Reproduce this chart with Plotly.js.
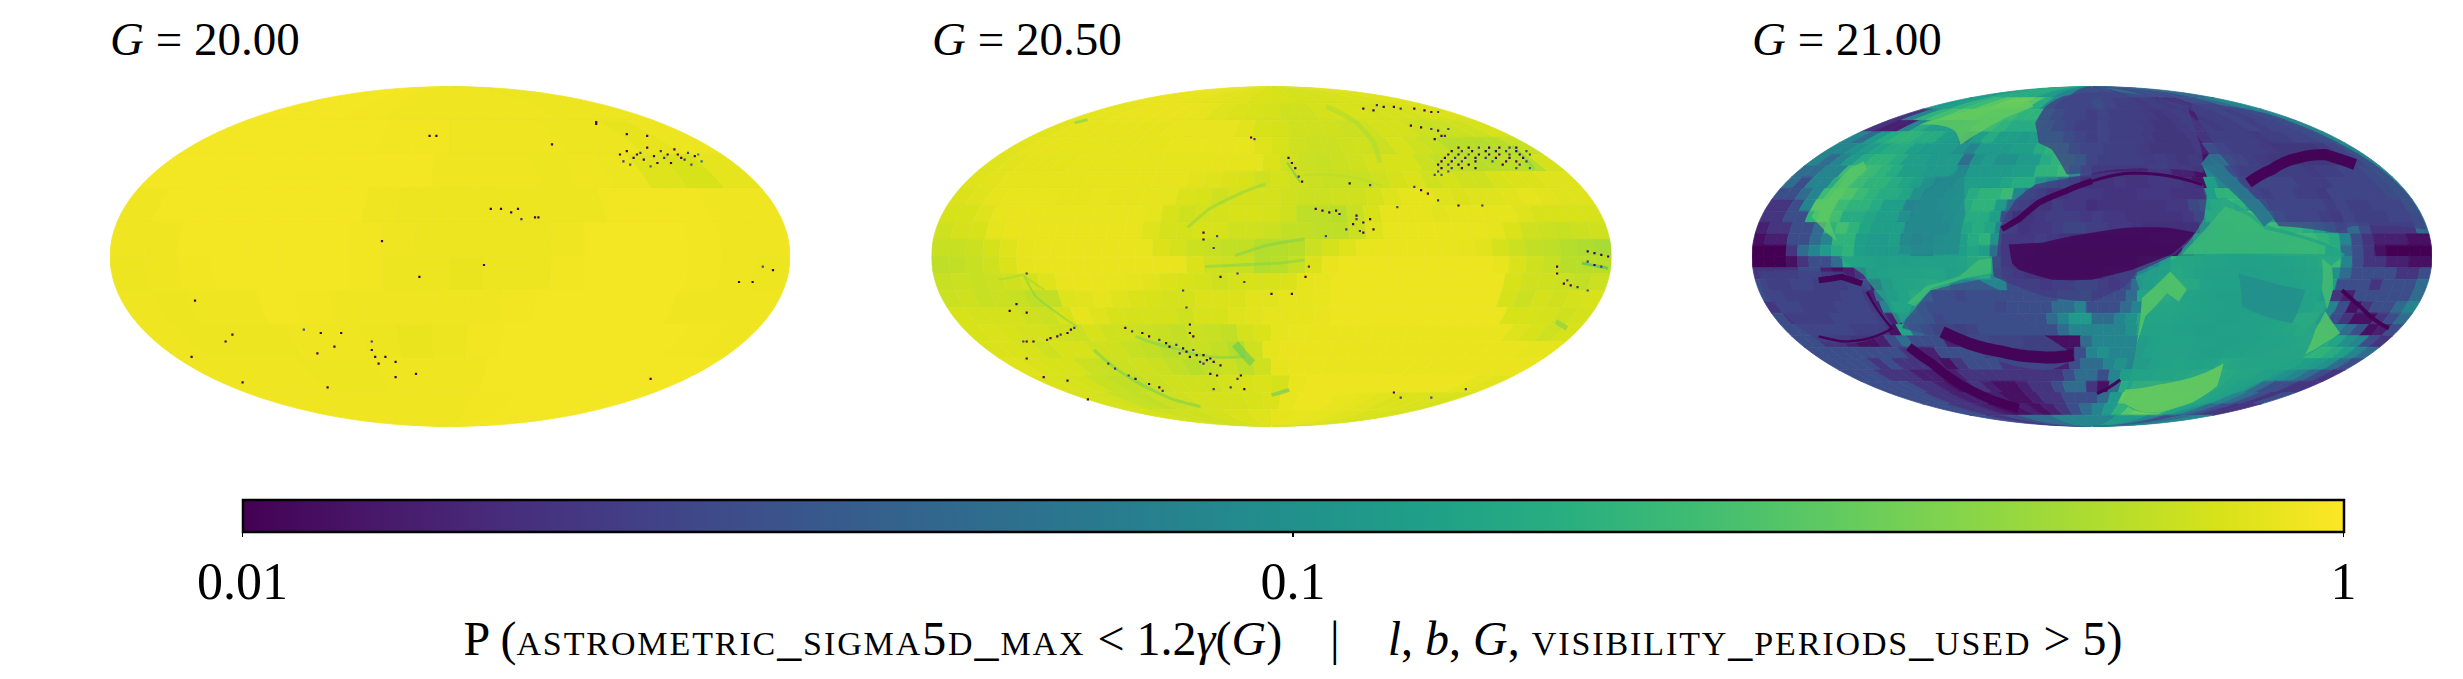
<!DOCTYPE html>
<html><head><meta charset="utf-8">
<script>
// The maps carry no base layers, so an empty world topology stands in for the one Plotly would fetch.
const emptyLayers = {};
['coastlines','land','ocean','lakes','rivers','countries','subunits'].forEach(k => { emptyLayers[k] = {type: 'GeometryCollection', geometries: []}; });
window.PlotlyGeoAssets = {topojson: {world_110m: {type: 'Topology', objects: emptyLayers, arcs: []}}};
</script>
<script src="https://cdn.plot.ly/plotly-3.0.1.min.js"></script>
<style>html,body{margin:0;padding:0;background:#fff}</style></head>
<body><div id="chart" style="width:2463px;height:679px"></div>
<script>
// Probabilities in percent, read by eye from the maps. Each inner array is one equal-height
// band of the all-sky map, top to bottom, spanning that band's chord from left to right.
const g2000Rows = [
[93,93,92,91,90,90,90,88,88],
[93,93,93,93,93,92,92,90,90,90,88,88,85,88],
[93,93,93,93,93,93,93,93,90,90,90,89,90,88,80,76,84],
[91,93,93,93,93,93,93,90,88,88,88,89,89,89,92,92,92,91,91],
[90,91,93,93,93,93,93,92,90,88,88,88,88,90,93,93,93,92,90,90],
[88,90,92,93,93,93,93,92,89,88,87,88,89,92,93,93,93,92,90,88],
[90,89,90,90,93,92,91,90,90,91,91,92,93,93,93,93,91,90,90],
[90,89,88,89,91,90,89,87,88,92,93,93,93,93,93,92,91],
[90,90,90,89,89,90,90,90,93,93,93,93,93,93],
[91,91,90,90,91,92,93,93,93]
];
const g2050Rows = [
[87,86,85,82,80,78,76,74,74,76,78,80],
[84,85,87,87,87,87,84,80,78,76,74,72,72,74,76,76,74,74,74,76,78],
[82,84,85,85,85,85,85,86,86,86,86,82,76,74,72,72,72,70,72,74,74,72,68,70,72,76],
[82,84,85,84,84,84,84,84,85,86,86,86,86,86,80,76,72,70,70,72,72,70,76,72,68,62,62,60,62,68],
[80,82,83,83,83,84,84,84,84,84,85,84,84,85,84,84,78,72,70,68,70,72,74,76,76,70,66,64,62,62,64,62,74],
[80,82,84,84,84,84,84,85,85,85,85,85,85,82,80,78,76,72,74,72,70,68,68,68,72,74,78,72,74,72,72,76,78,78,80,80],
[78,80,85,86,86,86,85,85,86,85,85,85,84,78,76,72,74,74,74,72,70,70,72,72,74,80,84,84,80,78,80,80,82,84,82,80,80],
[76,76,80,86,87,87,86,86,86,86,86,86,84,76,72,74,74,76,76,74,72,64,64,62,68,76,85,85,85,82,84,85,85,84,80,76,76,76,76],
[72,74,76,84,87,87,87,87,87,87,87,87,80,74,74,76,76,72,72,70,66,66,64,64,70,80,86,86,87,86,86,86,84,78,72,70,68,70,72],
[68,68,70,74,80,85,87,87,87,87,87,87,86,78,74,70,68,66,66,60,60,62,70,74,80,86,87,87,87,87,86,85,82,74,70,66,64,60,58,55],
[64,66,68,72,78,85,87,87,87,87,87,87,87,87,87,78,72,70,68,60,62,68,78,87,88,88,88,88,88,88,88,88,88,86,78,72,68,62,62,62],
[68,70,68,70,72,74,80,87,87,87,86,84,82,78,76,74,72,74,76,76,78,84,86,88,88,88,88,88,88,88,88,88,88,76,72,72,70,66,70],
[70,72,68,70,68,64,66,80,82,84,80,78,76,74,74,78,78,78,82,82,84,84,86,88,88,88,88,88,88,88,88,88,88,74,70,74,72,74,76],
[76,74,74,74,72,70,76,85,80,76,74,74,74,72,76,76,80,82,84,84,85,87,88,88,88,88,88,88,88,88,88,88,76,76,74,72,74],
[76,78,76,74,74,72,70,76,72,72,70,68,66,70,68,66,74,78,84,86,87,87,87,87,87,87,87,87,87,87,87,87,80,76,72,76],
[78,78,76,72,76,76,72,72,68,66,62,66,68,66,60,72,84,87,87,87,87,87,87,87,87,87,87,87,87,87,87,84,84],
[80,78,76,76,70,68,70,72,70,66,62,66,70,64,72,85,87,87,87,87,87,87,87,87,87,87,87,87,87,87],
[78,76,74,68,66,66,70,72,72,72,74,76,78,74,86,88,88,88,88,88,88,88,88,88,84,82],
[76,74,68,66,70,72,74,74,74,76,78,86,88,88,86,84,82,78,78,78,76],
[76,72,72,74,78,80,84,86,84,82,78,76]
];
const g2100Rows = [
[12,17,17,17,12,8,3,3,3,3,5,3,3,3,5],
[12,13,20,23,30,35,35,30,17,8,3,3,3,5,3,2,2,1.5,2,1.5,2,2,3,3,5,8],
[2,8,20,25,30,30,30,25,23,23,20,20,12,5,3,3,2,3,2,2,2,1.5,1.2,1.5,2,1.5,2,2,3,2,3,5,8],
[2,1.5,1.5,8,17,13,13,13,17,23,23,20,17,17,17,12,5,3,2,2,3,2,2,2,1.5,1.2,1.2,1.5,2,2,1.5,2,2,3,2,3,3,5,8],
[8,5,12,17,20,20,17,17,13,12,8,13,17,13,13,12,13,13,12,5,3,2,3,2,2,2,1.5,1.2,1.2,1.2,1.5,2,2,2,2,2,1.5,2,2,3,3,5,8],
[8,8,10,12,15,17,17,13,12,12,12,10,8,12,12,12,13,13,17,20,17,5,3,3,2,2,2,1.5,1.2,1.2,1.2,1.2,1.5,3,3,2,2,2,1.5,1.2,1.2,1.2,1.2,1.5,3,8],
[8,5,8,12,17,20,20,17,13,13,12,12,12,5,10,12,10,10,12,12,17,20,20,12,3,2,2,2,2,1.5,2,1.5,1.2,1.5,1.2,5,5,3,2,1.5,1.2,1.2,1.2,1.2,1.2,1.2,1.5,3,8],
[5,5,8,8,23,23,23,20,17,13,13,12,12,12,8,12,12,12,12,13,13,20,20,23,10,3,1.5,1.5,1.5,1.5,1.5,2,2,1.5,1.5,1.2,8,5,3,2,2,2,2,2,2,1.5,2,2,3,3,5,8],
[5,3,8,8,17,25,23,20,20,17,15,13,10,8,8,12,13,13,13,15,17,17,10,8,5,3,1.2,1.5,1.5,2,1.5,1.5,2,2,2,1.5,1.2,13,8,5,3,3,3,3,3,2,2,2,3,3,3,3,5,8],
[3,3,5,8,23,30,28,23,20,17,17,15,10,8,8,10,13,17,20,20,23,8,5,3,1.5,1.5,2,2,2,1.5,1.5,1.5,2,2,2,1.5,1.5,1.5,13,20,20,5,3,2,3,3,2,2,1.5,3,3,3,3,3,5,8],
[2,2,3,8,30,30,23,20,20,17,13,13,8,8,8,10,13,17,20,20,12,5,3,2,1.5,3,2,2,1.2,1.5,1.5,1.5,1.5,1.5,1.5,2,2,8,15,23,25,20,13,8,3,3,3,3,3,2,3,2,2,3,3,3,8],
[2,2,3,3,20,30,25,17,17,15,13,13,10,8,8,8,10,15,17,17,13,3,1.2,1.5,2,3,3,3,2,3,2,2,1.5,1.5,1.5,1.5,1.5,2,5,23,28,30,30,25,13,5,3,3,3,2,1.5,3,2,2,2,3,3,5],
[1.5,2,2,3,3,5,20,25,20,15,13,13,13,8,8,8,8,13,15,17,15,8,3,1.5,2,2,3,5,5,3,3,2,2,1.5,1.2,1.2,1.2,1.2,1.2,3,17,20,23,25,25,23,20,20,17,13,8,3,5,3,2,2,2,2,5],
[1.2,1.5,1.5,3,3,5,8,20,20,13,12,12,13,8,5,8,10,13,13,17,20,10,2,2,2,3,2,1.5,1.2,1.2,1.2,1.2,1.2,1.2,1.2,1.5,1.5,1.5,2,8,13,17,20,17,13,15,17,20,23,23,20,17,8,3,2,1.5,1.5,1.5,1.2,1.2],
[1,1,1,2,5,8,12,17,20,13,12,12,12,12,8,8,12,13,13,15,13,5,2,1.5,1.5,1.2,1,1,1,1,1,1,1,1,1,1,1.2,1.2,3,13,17,15,13,13,15,17,20,23,23,23,20,17,5,3,2,1.2,1,1,1,1],
[1,1,1,1.2,2,3,3,5,17,15,13,12,13,12,13,13,13,13,15,23,25,10,2,1.5,1.2,1.2,1,1,1,1,1,1,1,1.2,5,8,12,20,20,17,15,15,13,13,13,13,13,15,17,20,23,23,8,3,2,2,1.5,1.5,1.2,1.2],
[2,2,2,2,3,3,1.5,1.2,1.5,2,10,13,15,15,15,17,17,12,13,15,17,8,3,2,1.5,1.2,1.2,1.2,1.2,1.2,1,2,3,3,8,10,12,23,20,15,13,13,13,12,12,13,13,13,15,17,20,10,5,3,3,3,3,2,2,3],
[3,2,2,3,3,2,2,2,3,3,1.5,8,15,17,20,25,17,8,8,8,8,8,3,3,3,2,3,3,5,5,3,2,3,5,10,13,20,25,23,15,13,13,13,13,12,12,13,13,15,17,13,3,3,3,2,3,3,3,5],
[3,3,2,2,2,2,2,3,3,1.5,5,10,15,25,10,3,3,2,3,3,3,3,3,3,3,3,5,5,8,3,3,3,5,15,23,25,20,15,13,13,12,12,12,12,12,13,13,15,15,8,2,1.5,3,3,3,3,3,5],
[2,3,3,2,2,2,3,3,3,1.5,8,17,15,5,3,3,3,3,3,3,2,3,3,3,3,5,5,8,3,3,3,5,8,17,20,20,17,15,13,13,12,12,12,12,13,13,13,15,20,8,3,1.2,2,3,3,5,8],
[3,2,2,2,2,3,3,3,3,2,1.5,8,8,5,2,3,3,3,3,3,3,3,3,3,5,8,12,12,5,5,8,10,15,17,17,15,13,13,13,12,12,13,13,13,15,17,25,25,8,3,2,1.2,1.2,2,3,5],
[3,3,3,3,3,3,2,2,2,1.2,15,5,3,1.5,1.5,1.2,1.5,3,3,3,3,3,3,3,5,8,8,8,8,8,10,15,15,15,13,13,12,12,13,13,13,13,15,17,20,23,20,13,8,5,3,1.2,1.5,3],
[3,3,2,2,1.5,1.2,1.2,1.5,3,5,3,3,3,1.5,1.5,2,2,1.5,1.5,1.5,1.2,1.2,1.2,1.2,1.2,5,8,8,8,8,10,13,15,15,15,13,13,12,12,13,13,15,15,17,20,20,17,15,10,8,3,2],
[3,3,3,3,3,3,3,3,2,1.5,1.5,3,3,3,3,2,1.5,1.5,1.2,1.2,1.2,1.2,1.2,3,8,10,8,8,8,13,15,15,15,13,12,12,13,13,15,15,17,17,17,20,20,17,13,8,5],
[3,3,3,3,2,3,2,2,2,1.5,1.2,2,3,3,3,2,2,2,2,1.5,1.5,3,5,5,8,10,8,8,13,15,17,15,13,15,23,20,17,17,17,17,15,13,12,10,5,3],
[3,3,3,2,2,2,1.5,1.5,1.2,1.5,2,2,2,2,2,2,2,2,2,3,5,5,3,8,13,15,15,17,17,20,23,28,30,23,20,17,13,12,10,8,5,3,2],
[3,3,3,3,2,2,1.5,1.2,1.5,2,1.5,1.2,1.2,1.5,2,2,3,5,5,2,1.2,5,17,33,35,35,35,30,30,30,25,17,13,10,5,3,3,2,2],
[3,3,3,2,2,1.5,1.5,2,1.5,1.2,1.2,1.5,2,2,3,3,3,5,12,30,35,38,38,38,35,30,20,13,8,5,3,2,3],
[3,3,2,2,1.5,1.2,1.2,1.5,1.2,1.5,2,3,5,8,12,20,30,35,35,30,15,10,5,3,2,2],
[3,2,3,5,5,8,8,8,8,12,12,8,3,5,8]
];
// Sharp-edged areas of the G = 21 map: P in percent and outline in map
// fractions (across, up), as percent of the half-axes.
const g2100AreaP = [2.5,3,14,24,14,23,36,30,30,25,9.5,33,30,9,2.2,1,2.5,2.5];
const g2100AreaU = [
[-98,-87.3,-80.4,-73.5,-66.7,-58.8,-61.3,-70.6,-80.4,-90.2,-96.6],
[-55.9,-52.9,-47.1,-41.2,-33.3,-27.5,-24.5,-11.8,-3.9,-11.8,-31.4,-45.1],
[-74.5,-67.2,-60.3,-56.9,-53.9,-47.5,-37.3,-29.2,-29.2],
[-54.4,-49,-39.2,-33.3,-29.6,-29.6,-37.3,-47.1,-52],
[33.8,39.2,52,68.6,74.5,70.1,70.8,68.6,73,62.7,51,37.3,25.5,16.7,8.8,10.3,13.2,14.7,12.7,24.5,29.4,32.8],
[39.2,46.1,51,62.7,68.6,68.6,26.5,32.4],
[9.8,19.6,33.3,38.7,36.8,29.4,19.6,11.8,8.3],
[14.7,23,27.9,25.5,22.1,15.7,13.2],
[68.6,73,62.7,65.7],
[67.6,70.6,70.8,69.1,67.6],
[43.1,62.7,58.8,44.1],
[-51,-37.3,-25.5,-18.6,-17.2,-25.5,-33.3,-38.7,-40.2,-44.1],
[-82.5,-76.5,-71.1,-67.2,-66.2,-71.6,-76.5,-77.3,-75,-77.5],
[-37.3,-49,-53.9,-56.9,-39.2,-37.3],
[-27.9,-27,-22.5,-16.7,-8.8,0,9.8,19.6,32.4,33.8,32.8,29.4,24.5,12.7,9.8,0,-13.7,-24.5,-28.9,-29.4],
[-24.5,-14.7,-5.9,0,9.8,22.5,30.4,27.5,23.5,11.8,3.9,0,-11.8,-21.6,-23.5],
[-15.7,-16.7,-13.7,-8.8,0,13.7,28.4,32.4,32.8,19.6,9.8,0,-7.4,-11.8],
[29.4,51,70.6,83.3,94.1,98.5,76.5,71.6,54.9,44.1,37.3,32.4]
];
const g2100AreaV = [
[-8.8,-7.8,-8.8,-8.8,-17.6,-40.1,-45.9,-51.2,-49.9,-34.2,-21.5],
[-42,-29.3,-19.6,-16.6,-13.7,-19.6,-31.3,-48.9,-58.7,-66.5,-58.7,-46.9],
[0,-10.8,-27.4,-40.1,-35.2,-19.6,-13.3,-10.8,0],
[-27.4,-17.6,-11.7,-2,-1,-9.8,-12.7,-18.6,-29.3],
[33.5,34.5,17.9,8.1,1.3,-5.9,-19.6,-32.3,-45,-58.7,-72.3,-84.1,-90.9,-91.9,-85,-77.2,-50.8,-24.4,-11.7,-1,11,21.8],
[29.6,23.8,15.9,10.1,6.2,1.3,1.3,14],
[-78.2,-75.3,-68.4,-63,-76.2,-86,-91.9,-89,-84.5],
[-24.4,-8.8,-19.6,-26.4,-21.5,-35.2,-50.8],
[-32.3,-45,-57.7,-43],
[-1,-5.9,-19.6,-31.3,-19.6],
[-9.8,-19.6,-39.1,-29.3],
[77.5,85.3,90.2,91.2,87.9,81.4,72.6,65.8,73.6,76.9],
[23.4,40.4,52.1,56,51.1,41.3,27.7,21.8,9.1,13],
[53.1,37.4,21.8,1.3,1.3,25.7],
[0.3,17.9,33.5,42.3,45.3,48.2,50.1,49.6,43.3,35.5,21.8,11,1.3,-9.8,-17.6,-26.4,-23.5,-15.6,-11.7,0],
[7.1,8.1,12,14,16.9,16.9,14,8.1,1.3,-7.8,-11.7,-13.7,-13.7,-7.8,-4],
[66.8,78.5,88.3,94.1,96.1,95.1,88.3,60.9,49.2,51.1,51.5,48.8,48.2,62.9],
[90.2,84.4,68.7,54,33.5,15.9,17.9,14,17.9,43.3,60.9,76.5]
];
// Narrow dark or pale arcs in the maps: P in percent, stroke width, and path in the same fractions.
const g2100ArcP = [1,1,1,1,1,1,1,1,1,6];
const g2100ArcW = [6,3,6,2.5,12,9,4,3,11,12];
const g2100ArcU = [
[-26.5,-21.6,-15.7,-7.8,0],[0,9.8,19.6,32.4],[-80.4,-73.5,-67.6],[-66.2,-58.8,-65.7,-73.5,-80.4],
[-44.1,-36.3,-26.5,-16.7,-5.4],[-53.9,-47,-39.2,-29.4,-21.6],[73.5,78.4,83.3,87.3],[1.5,8.3],
[46,52.9,60.8,68.6,77.4],[33.1,42,52]
];
const g2100ArcV = [
[16,21.8,31.6,38.4,44.3],[44.3,48.8,48.2,42.3],[-14,-12,-16],[-20.8,-42.3,-48.2,-50,-47],
[-44.3,-51.1,-56,-59,-58],[-53.1,-63,-74.6,-84.3,-89.2],[-19.8,-28.6,-37.4,-42.3],[-80.7,-72.5],
[43.3,51.1,58,60,54.1],[57,41.3,19.8]
];
const g2050ArcP = [45,60,55,40,42,40,32,38,40,50,38,22,42,30,35,30];
const g2050ArcW = [3,2,5,3,3,3,8,3,2,2,5,3,3,2,3,4];
const g2050ArcU = [
[-24.7,-18.4,-10.7,-1.8],[8.4,21.2,32.7],[16.1,25,30.1,32],[-10.7,-1.8,9.7],[-19.6,-8.2,2,9.7],[-40,-28.6,-18.4,-8.2],
[-10.7,-5.6],[-52.2,-45.2,-36.2,-28.6,-20.9],[-72.6,-69.4,-63,-57.3],[-80.2,-73.2,-66.8],[83.7,86.9],[91.3,99],
[70.9,77.3],[4.6,8.4],[-57.9,-54.1],[0,5.2]
];
const g2050ArcV = [
[17.1,27.9,35.7,42.5],[47.4,47.4,41.5],[88.3,78.6,66.9,55.2],[0.6,6.4,10.3],[-5.9,-4.9,-3.9,-2],[-47,-53.9,-58.8,-58.8],
[-51.4,-62.7],[-54.9,-66.7,-77.5,-84.3,-88.2],[-11.8,-23.5,-33.3,-41.2],[-13.7,-10.8,-19.6],[-38.2,-42.2],[-3.9,-6.9],
[64.9,51.3],[55.2,43.5],[78.6,80.5],[-81.4,-78.4]
];
// Isolated low-probability pixels: position across and up the map (percent of half-axes) and P in percent.
const g2000SpeckU = [50,52,54,56,58,60,62,64,66,68,70,72,74,51,53,57,61,63,65,67,69,71,55,59,73,-6,-4,30,12,15,18,20,26,25,21,-20,-9,10,-75,-66,-64,-43,-38,-32,-39,-34,-23,-23,-22,-19,-21,-16,-10,-16,-36,59,89,85,95,92,43,43,52,58,-76,-61];
const g2000SpeckV = [60,62,58,61,64,59,62,60,63,58,61,59,56,56,54,57,55,58,55,60,57,54,60,53,60,71,71,66,28,28,26,28,23,23,22,9,-12,-5,-26,-50,-46,-43,-45,-45,-57,-53,-50,-55,-59,-59,-63,-62,-69,-71,-77,-72,-15,-15,-8,-6,79,78,72,71,-59,-74];
const g2000SpeckP = [1,1,1,2,1,1,2,1,1,1,3,1,5,2,3,1,1,2,1,1,2,3,1,5,8,1,1,1,1,1,1,1,1,1,2,1,1,1,1,1,1,3,1,1,1,1,2,1,1,1,1,1,1,1,1,1,1,1,1,3,1,1,1,1,1,1];
const g2050SpeckU = [55,58,61,64,67,70,72,53,56,59,63,66,69,72,75,52,55,58,61,64,67,70,73,76,51,54,57,60,63,66,70,74,50,53,56,60,65,69,72,75,49,52,55,58,68,73,50,53,56,60,72,76,49,52,48,50,27,31,33,36,38,42,45,47,49,30,41,44,47,49,50,51,48,52,13,15,17,19,20,25,25,27,29,24,26,27,30,22,16,5,6,7,8,9,-6,-5,23,29,37,42,44,46,49,55,62,-20,-20,-16,-17,93,95,97,99,93,95,97,84,84,86,88,90,87,93,-43,-41,-38,-36,-33,-31,-30,-28,-26,-25,-23,-22,-20,-19,-20,-18,-17,-15,-21,-24,-27,-66,-65,-63,-62,-60,-59,-58,-70,-72,-26,-25,-24,-24,-23,-48,-46,-42,-40,-36,-33,-32,-18,-16,-10,-9,-8,-12,-17,-67,-68,-60,-72,-73,47,38,36,-54,-10,-15,-8,0,6,10,11,-72,-75,-72,-77];
const g2050SpeckV = [64,64,64,64,64,64,64,62,62,62,62,62,62,62,62,60,60,60,60,60,60,60,60,60,58,58,58,58,58,58,58,58,56,56,56,56,56,56,56,56,54,54,54,54,54,54,52,52,52,52,52,52,50,50,48,48,87,89,88,88,87,87,86,85,85,86,77,76,75,74,71,71,69,75,28,27,26,27,25,24,22,20,22,19,15,14,16,16,12,58,55,52,47,44,70,69,43,42,29,41,39,37,33,30,30,14,10,12,5,3,2,1,0,-3,-5,-6,-6,-10,-16,-17,-18,-14,-20,-42,-44,-45,-47,-49,-51,-53,-52,-54,-56,-55,-58,-58,-61,-63,-60,-62,-64,-62,-59,-57,-49,-48,-47,-46,-45,-43,-42,-50,-50,-20,-30,-40,-45,-47,-63,-66,-70,-72,-75,-77,-79,-69,-70,-72,-70,-78,-77,-78,-71,-78,-73,-60,-50,-83,-83,-80,-84,-10,-12,-15,-22,-22,-12,-6,-10,-28,-33,-32];
const g2050SpeckP = [1,1,2,1,1,2,1,1,2,1,1,1,2,1,3,1,1,2,1,1,1,2,1,3,1,2,1,1,2,1,1,1,1,1,2,1,3,1,1,2,1,2,1,1,1,2,1,2,1,1,3,5,2,3,3,5,1,2,1,1,2,1,1,1,2,1,1,1,2,1,1,2,1,3,1,1,1,1,1,1,2,1,1,1,2,1,1,2,3,1,1,1,2,1,1,2,1,2,3,2,1,1,2,1,2,1,1,3,2,1,1,1,1,2,1,2,1,1,1,1,2,3,3,1,2,1,1,2,1,1,2,1,1,2,1,1,1,2,1,1,1,2,1,2,2,1,1,2,1,1,2,1,1,2,2,1,1,1,2,2,3,1,1,1,2,1,1,2,1,1,2,2,1,2,1,1,2,3,2,1,1,2,1,2,1,1,1,2,2,1,1,1,2,1];
const tickValues = [0.01, 0.1, 1];
const tickLabels = ['0.01', '0.1', '1'];
const panelTitles = ['<i>G</i> = 20.00', '<i>G</i> = 20.50', '<i>G</i> = 21.00'];
const capsStyle = 'font-variant:small-caps;letter-spacing:1.9px';
const colorLabel = 'P (<span style="' + capsStyle + '">astrometric_sigma5d_max</span> &lt; 1.2<i>γ</i>(<i>G</i>) &#160;&#160; | &#160;&#160; <i>l</i>, <i>b</i>, <i>G</i>, <span style="' + capsStyle + '">visibility_periods_used</span> &gt; 5)';

const serif = '"Liberation Serif","Times New Roman",serif';
const viridis = ['#440154','#482878','#3e4989','#31688e','#26828e','#1f9e89','#35b779','#6ece58','#b5de2b','#fde725'];
const toLog = p => Math.log10(p / 100);
function shade(p, alpha) {
  const t = Math.max(0, Math.min(1, (toLog(p) + 2) / 2)) * (viridis.length - 1);
  const i = Math.min(Math.floor(t), viridis.length - 2), f = t - i;
  const c = h => [1, 3, 5].map(k => parseInt(h.substr(k, 2), 16));
  const a = c(viridis[i]), b = c(viridis[i + 1]);
  return 'rgba(' + a.map((v, k) => Math.round(v + (b[k] - v) * f)).join(',') + ',' + (alpha === undefined ? 1 : alpha) + ')';
}
function latOf(v) {
  const th = Math.asin(Math.max(-1, Math.min(1, v)));
  return Math.asin((2 * th + Math.sin(2 * th)) / Math.PI) * 180 / Math.PI;
}
const lonLat = (us, vs) => {
  const lat = [], lon = [];
  us.forEach((u, i) => {
    const v = vs[i] / 100;
    lat.push(latOf(v));
    lon.push(180 * (u / 100) / Math.sqrt(1 - v * v));
  });
  return {lat, lon};
};
function cells(rows, prefix) {
  const features = [], ids = [], z = [], lines = [];
  rows.forEach((row, r) => {
    const top = Math.min(89.95, latOf(1 - 2 * r / rows.length));
    const bot = Math.max(-89.95, latOf(1 - 2 * (r + 1) / rows.length));
    row.forEach((p, i) => {
      const l0 = -179.95 + 359.9 * i / row.length, l1 = -179.95 + 359.9 * (i + 1) / row.length;
      const ring = [];
      for (let k = 0; k <= 4; k++) ring.push([l0 + (l1 - l0) * k / 4, top]);
      for (let k = 1; k <= 3; k++) ring.push([l1, top + (bot - top) * k / 4]);
      for (let k = 0; k <= 4; k++) ring.push([l1 + (l0 - l1) * k / 4, bot]);
      for (let k = 1; k <= 4; k++) ring.push([l0, bot + (top - bot) * k / 4]);
      const id = prefix + '-' + r + '-' + i;
      features.push({type: 'Feature', id, properties: {}, geometry: {type: 'Polygon', coordinates: [ring]}});
      ids.push(id); z.push(toLog(p)); lines.push(shade(p));
    });
  });
  return {geojson: {type: 'FeatureCollection', features}, ids, z, lines};
}
const colorbar = {
  orientation: 'h', thicknessmode: 'pixels', thickness: 32, lenmode: 'pixels', len: 2101,
  x: 242.5 / 2463, xanchor: 'left', xpad: 0, y: 1 - 499.5 / 679, yanchor: 'top', ypad: 0,
  outlinecolor: '#000', outlinewidth: 2.5, ticks: 'outside', ticklen: 4, tickwidth: 1.5, tickcolor: '#000',
  tickmode: 'array', tickvals: tickValues.map(v => Math.log10(v)), ticktext: tickLabels,
  tickfont: {family: serif, size: 52, color: '#000'},
  title: {text: colorLabel, side: 'bottom', font: {family: serif, size: 48, color: '#000'}}
};
const geoId = n => n === 1 ? 'geo' : 'geo' + n;
function mapTrace(rows, n, showScale) {
  const c = cells(rows, 'm' + n);
  return {
    type: 'choropleth', geo: geoId(n), geojson: c.geojson, locations: c.ids, z: c.z,
    featureidkey: 'id', locationmode: 'geojson-id', colorscale: 'Viridis', zmin: -2, zmax: 0,
    marker: {line: {width: 0.8, color: c.lines}}, showscale: showScale, colorbar, hoverinfo: 'skip'
  };
}
function speckTrace(us, vs, ps, n) {
  const ll = lonLat(us, vs);
  return {
    type: 'scattergeo', geo: geoId(n), mode: 'markers', lat: ll.lat, lon: ll.lon,
    marker: {symbol: 'square', size: 2.2, color: ps.map(toLog), cmin: -2, cmax: 0, colorscale: 'Viridis', line: {width: 0}},
    showlegend: false, hoverinfo: 'skip'
  };
}
function areaTraces(us, vs, ps, n) {
  return us.map((u, i) => {
    // Spherical fills run clockwise as seen on the map, or they take the complement of the outline.
    let twice = 0;
    u.forEach((x, k) => { const j = (k + 1) % u.length; twice += x * vs[i][j] - u[j] * vs[i][k]; });
    const ll = twice > 0 ? lonLat(u.slice().reverse(), vs[i].slice().reverse()) : lonLat(u, vs[i]);
    return {
      type: 'scattergeo', geo: geoId(n), mode: 'lines', lat: ll.lat.concat(ll.lat[0]), lon: ll.lon.concat(ll.lon[0]),
      fill: 'toself', fillcolor: shade(ps[i], 0.78), line: {width: 0, color: 'rgba(0,0,0,0)'}, showlegend: false, hoverinfo: 'skip'
    };
  });
}
function arcTraces(us, vs, ps, ws, alpha, n) {
  return us.map((u, i) => {
    const ll = lonLat(u, vs[i]);
    return {
      type: 'scattergeo', geo: geoId(n), mode: 'lines', lat: ll.lat, lon: ll.lon,
      line: {width: ws[i], color: shade(ps[i], alpha)}, showlegend: false, hoverinfo: 'skip'
    };
  });
}
const W = 2463, H = 679;
const lefts = [110, 931.5, 1752], mapW = 680, mapTop = 86, mapBot = 427;
function geoLayout(i) {
  return {
    domain: {x: [lefts[i] / W, (lefts[i] + mapW) / W], y: [1 - mapBot / H, 1 - mapTop / H]},
    projection: {type: 'mollweide'}, bgcolor: 'rgba(0,0,0,0)',
    showframe: false, showland: false, showocean: false, showlakes: false, showrivers: false,
    showcoastlines: false, showcountries: false, showsubunits: false,
    lataxis: {showgrid: false}, lonaxis: {showgrid: false}
  };
}
const data = [
  mapTrace(g2000Rows, 1, false), speckTrace(g2000SpeckU, g2000SpeckV, g2000SpeckP, 1),
  mapTrace(g2050Rows, 2, false), ...arcTraces(g2050ArcU, g2050ArcV, g2050ArcP, g2050ArcW, 0.55, 2),
  speckTrace(g2050SpeckU, g2050SpeckV, g2050SpeckP, 2),
  mapTrace(g2100Rows, 3, true),
  ...areaTraces(g2100AreaU, g2100AreaV, g2100AreaP, 3),
  ...arcTraces(g2100ArcU, g2100ArcV, g2100ArcP, g2100ArcW, 0.95, 3)
];
const layout = {
  width: W, height: H, margin: {l: 0, r: 0, t: 0, b: 0}, paper_bgcolor: '#fff', showlegend: false,
  geo: geoLayout(0), geo2: geoLayout(1), geo3: geoLayout(2),
  annotations: panelTitles.map((t, i) => ({
    text: t, xref: 'paper', yref: 'paper', x: (lefts[i] - 2) / W, y: 1 - 39 / H,
    xanchor: 'left', yanchor: 'middle', showarrow: false, font: {family: serif, size: 47, color: '#000'}
  }))
};
Plotly.newPlot('chart', data, layout, {staticPlot: true, displayModeBar: false});
</script></body></html>
